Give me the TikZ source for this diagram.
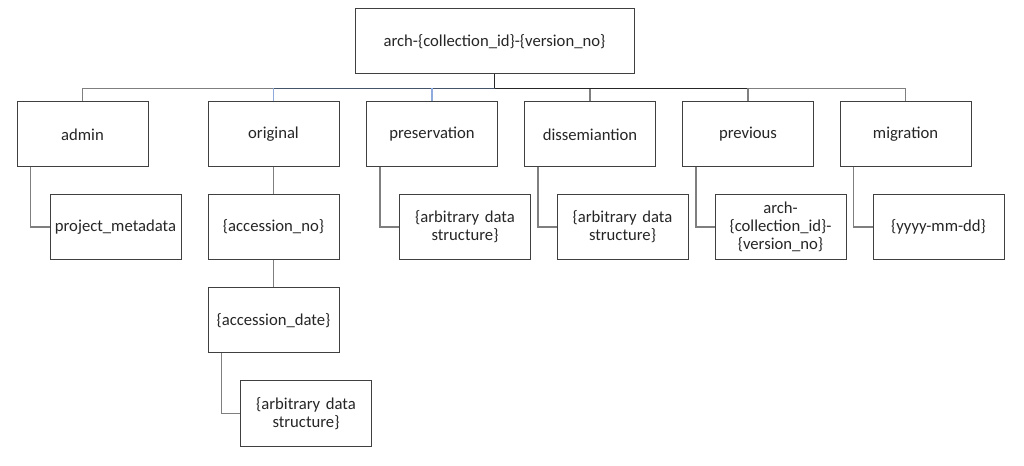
\documentclass[tikz,border=0pt]{standalone}
\usepackage{fontspec}
\setmainfont{Carlito}
\usepackage{xcolor}
\usepackage{tikz}
\usetikzlibrary{positioning, calc}
\definecolor{dirLine}{HTML}{404040}
\definecolor{dirText}{HTML}{262626}
\definecolor{linkGray}{HTML}{7F7F7F}
\definecolor{linkNavy}{HTML}{44546A}
\definecolor{linkLight}{HTML}{8FAADC}
\definecolor{linkDark}{HTML}{262626}
\tikzset{
  folderbox/.style={
    rectangle, draw=dirLine, line width=0.75pt,
    fill=white, text=dirText,
    inner sep=2pt,
    minimum width=98.25pt, minimum height=48.75pt,
    text width=92pt, align=center,
    font=\fontsize{12.5pt}{13.5pt}\selectfont
  },
  rootbox/.style={
    folderbox, minimum width=209.25pt, text width=200pt
  },
  link/.style={draw=#1, line width=0.9pt},
  link/.default=linkGray
}
\begin{document}
\begin{tikzpicture}[x=0.75pt, y=-0.75pt]
        \useasboundingbox (0,0) rectangle (1024,466);
        % root folder
        \node[rootbox] (root) at (494.5,41.5) {arch-\{collection\_id\}-\{version\_no\}};
        % first level
        \node[folderbox] (admin) at (82.5,134.5) {admin};
        \node[folderbox] (original) at (273.5,134.5) {original};
        \node[folderbox] (preserv) at (432,134.5) {preservation};
        \node[folderbox] (dissem) at (590,134.5) {dissemiantion};
        \node[folderbox] (previous) at (748,134.5) {previous};
        \node[folderbox] (migration) at (905.5,134.5) {migration};
        % second level
        \node[folderbox] (projmeta) at (115.5,227) {project\_metadata};
        \node[folderbox] (accno) at (273.5,227) {\{accession\_no\}};
        \node[folderbox] (presdata) at (465,227) {\{arbitrary data structure\}};
        \node[folderbox] (dissdata) at (622.5,227) {\{arbitrary data structure\}};
        \node[folderbox] (prevarch) at (780.5,227) {arch-\\\{collection\_id\}-\\\{version\_no\}};
        \node[folderbox] (migdate) at (938.5,227) {\{yyyy-mm-dd\}};
        % deeper levels
        \node[folderbox] (accdate) at (273.5,320.5) {\{accession\_date\}};
        \node[folderbox] (origdata) at (306,413.5) {\{arbitrary data structure\}};
        % bus
        \draw[link=linkDark] (root.south) -- ++(0,14) coordinate (bus);
        \draw[link] (bus) -| (admin.north);
        \draw[link] (bus) -| (migration.north);
        \draw[link] (bus) -| (dissem.north);
        \draw[link=linkDark] (bus) -- (bus -| previous.north);
        \draw[link] (bus -| previous.north) -- (previous.north);
        \draw[link=linkNavy] (bus) -- (bus -| original.north);
        \draw[link=linkLight] (bus -| original.north) -- (original.north);
        \draw[link=linkLight] (bus -| preserv.north) -- (preserv.north);
        % children
        \draw[link] ([xshift=10.5pt]admin.south west) |- (projmeta.west);
        \draw[link] (original.south) -- (accno.north);
        \draw[link] (accno.south) -- (accdate.north);
        \draw[link] ([xshift=10.5pt]accdate.south west) |- (origdata.west);
        \draw[link] ([xshift=10.5pt]preserv.south west) |- (presdata.west);
        \draw[link] ([xshift=10.5pt]dissem.south west) |- (dissdata.west);
        \draw[link] ([xshift=10.5pt]previous.south west) |- (prevarch.west);
        \draw[link] ([xshift=10.5pt]migration.south west) |- (migdate.west);
      \end{tikzpicture}
\end{document}
